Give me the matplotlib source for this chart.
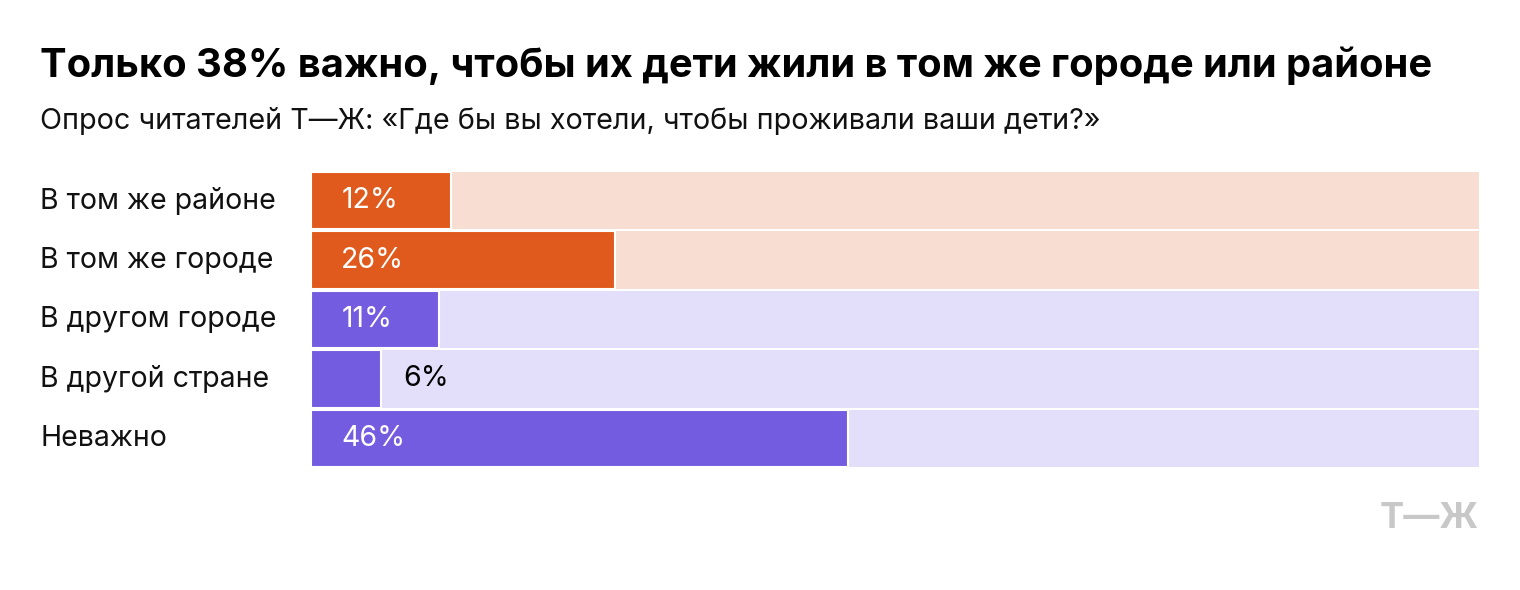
import matplotlib
matplotlib.use("Agg")
import matplotlib.pyplot as plt

categories = ["В том же районе", "В том же городе", "В другом городе", "В другой стране", "Неважно"]
values = [12, 26, 11, 6, 46]
groups = ["local", "local", "away", "away", "away"]

plt.rcParams['font.family'] = ['Inter', 'DejaVu Sans']

dark = {"local": "#E05A1E", "away": "#735CE0"}
light = {"local": "#F8DED2", "away": "#E3DFFA"}

fig = plt.figure(figsize=(15.2, 5.9), dpi=100)
ax = fig.add_axes([0.2046, 0.2068, 0.7684, 0.5034])

n = len(categories)
for i, (cat, v, g) in enumerate(zip(categories, values, groups)):
    ax.barh(i, 100, height=0.967, color=light[g], left=0)
    ax.barh(i, v, height=0.967, color=dark[g], edgecolor="white", linewidth=1.5)
    if v >= 10:
        ax.text(2.6, i, f"{v}%", color="white", va="center", ha="left", fontsize=20.5)
    else:
        ax.text(v + 1.9, i, f"{v}%", color="black", va="center", ha="left", fontsize=20.5)
    ax.text(-23.2, i, cat, va="center", ha="left", fontsize=20.5, color="#111111")

ax.set_xlim(0, 100)
ax.set_ylim(n - 0.5, -0.5)
ax.axis("off")

fig.text(40/1520, 1 - 66/590, "Только 38% важно, чтобы их дети жили в том же городе или районе",
         fontsize=28.7, fontweight="bold", va="center", ha="left")
fig.text(40/1520, 1 - 121/590, "Опрос читателей Т—Ж: «Где бы вы хотели, чтобы проживали ваши дети?»",
         fontsize=20.7, va="center", ha="left", color="#111111")
fig.text(1479/1520, 1 - 519/590, "Т—Ж", fontsize=26, fontweight="bold", color="#C8C8C8",
         va="center", ha="right")

fig.savefig("out.png", dpi=100)
